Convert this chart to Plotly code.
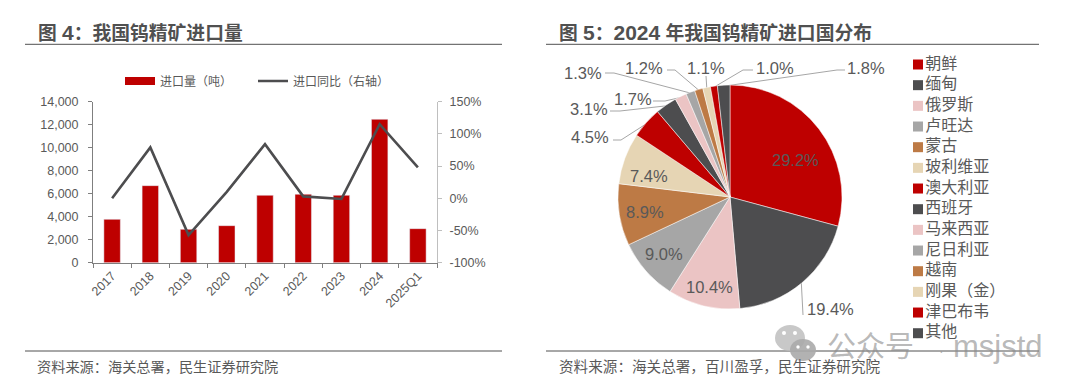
import math
import plotly.graph_objects as go

FONT = "Liberation Sans, Noto Sans CJK SC, sans-serif"
TXT = "#595959"
DARK = "#4D4D4F"
RED = "#BE0000"

years = ["2017", "2018", "2019", "2020", "2021", "2022", "2023", "2024", "2025Q1"]
import_tons = [3770, 6700, 2900, 3220, 5860, 5950, 5860, 12470, 2960]
import_yoy = [0, 79, -57, 10, 84, 3, -1, 115, 48]
yoy_ticks = [-100, -50, 0, 50, 100, 150]
yoy_labels = ["-100%", "-50%", "0%", "50%", "100%", "150%"]

countries = ["朝鲜", "缅甸", "俄罗斯", "卢旺达", "蒙古", "玻利维亚", "澳大利亚", "西班牙",
             "马来西亚", "尼日利亚", "越南", "刚果（金）", "津巴布韦", "其他"]
shares = [29.2, 19.4, 10.4, 9.0, 8.9, 7.4, 4.5, 3.1, 1.7, 1.3, 1.2, 1.1, 1.0, 1.8]
palette = [RED, DARK, "#EBC4C4", "#A6A6A6", "#BD7A45", "#E6D5B4"]
colors = [palette[i % 6] for i in range(len(shares))]

# pixel placement of pie labels (centre x, centre y)
label_xy = [(795, 160), (830, 309), (709, 287), (664, 254), (645, 212), (649, 176), (590, 137),
            (589, 109), (633, 99), (583, 73), (644, 68), (706, 68), (775, 68), (866, 68)]
# leader polylines: start, elbow; the end is worked out from the slice angle
leaders = {1: [(803, 315)], 6: [(613, 140), (621, 140)], 7: [(610, 111), (620, 111)],
           8: [(653, 101), (665, 101)], 9: [(605, 73), (614, 73)], 10: [(667, 70), (675, 70)],
           11: [(706, 76)], 12: [(753, 70), (743, 70)], 13: [(845, 70), (837, 70)]}
PIE_C, PIE_R = (730, 197), 112

W, H = 1080, 389
fig = go.Figure()

fig.add_trace(go.Bar(x=years, y=import_tons, name="进口量（吨）", marker_color=RED,
                     xaxis="x", yaxis="y", showlegend=False))
# legend key for the bars: plotly's own bar key is a small square, the reference's is a wide bar
fig.add_trace(go.Scatter(x=[None], y=[None], name="进口量（吨）", mode="lines",
                         line=dict(color=RED, width=8), xaxis="x", yaxis="y"))
fig.add_trace(go.Scatter(x=years, y=import_yoy, name="进口同比（右轴）", mode="lines",
                         line=dict(color=DARK, width=2.6), xaxis="x", yaxis="y2"))

fig.add_trace(go.Pie(values=shares, labels=countries, sort=False, direction="clockwise", rotation=0,
                     marker=dict(colors=colors, line=dict(color="white", width=0.5)),
                     textinfo="none", hoverinfo="label+percent", showlegend=False,
                     domain=dict(x=[(PIE_C[0]-PIE_R)/W, (PIE_C[0]+PIE_R)/W],
                                 y=[1-(PIE_C[1]+PIE_R)/H, 1-(PIE_C[1]-PIE_R)/H])))

# overlay pixel axes: leader lines and country key
cum = 0
mids = []
for s in shares:
    mids.append((cum + s/2)/sum(shares)*2*math.pi)
    cum += s
for i, pts in leaders.items():
    a = mids[i]
    end = (PIE_C[0] + (PIE_R-1)*math.sin(a), PIE_C[1] - (PIE_R-1)*math.cos(a))
    all_pts = pts + [end]
    fig.add_trace(go.Scatter(x=[p[0] for p in all_pts], y=[p[1] for p in all_pts], mode="lines",
                             line=dict(color="#A6A6A6", width=1), xaxis="x3", yaxis="y3",
                             showlegend=False, hoverinfo="skip"))

fig.add_trace(go.Scatter(x=[918]*len(countries), y=[64.5 + 20.67*i for i in range(len(countries))],
                         mode="markers+text", text=countries, textposition="middle right",
                         textfont=dict(size=16, color=TXT, family=FONT),
                         marker=dict(symbol="square", size=10, color=colors),
                         xaxis="x3", yaxis="y3", showlegend=False, hoverinfo="skip"))

ann = []
def text(x, y, s, size, color=TXT, anchor="left", bold=False):
    ann.append(dict(x=x/W, y=1-y/H, xref="paper", yref="paper", text=f"<b>{s}</b>" if bold else s,
                    showarrow=False, xanchor=anchor, yanchor="middle",
                    font=dict(size=size, color=color, family=FONT)))

def big(s):
    return f'<span style="font-size:21px">{s}</span>'

text(36, 32, f"图 {big('4')}：我国钨精矿进口量", 18.8, "#505050", bold=True)
text(557, 32, f"图 {big('5')}：{big('2024')} 年我国钨精矿进口国分布", 18.8, "#505050", bold=True)
text(35, 367, "资料来源：海关总署，民生证券研究院", 14.2)
text(557, 367, "资料来源：海关总署，百川盈孚，民生证券研究院", 14.6)
for (x, y), s in zip(label_xy, shares):
    text(x, y, f"{s:.1f}%", 16.5, anchor="center")
WM = "rgba(140,140,140,0.62)"
text(825, 347, "公众号", 29, WM)
text(941, 351, "·", 14, WM, anchor="center")
text(951, 346, "msjstd", 31, WM)

shapes = []
for x0, x1 in [(25, 502), (546, 1039)]:
    for y in (44.3, 351):
        shapes.append(dict(type="line", xref="paper", yref="paper", x0=x0/W, x1=x1/W, y0=1-y/H, y1=1-y/H,
                           line=dict(color="#505050", width=1)))
def oval(cx, cy, rx, ry, color):
    shapes.append(dict(type="circle", xref="paper", yref="paper", x0=(cx-rx)/W, x1=(cx+rx)/W,
                       y0=1-(cy+ry)/H, y1=1-(cy-ry)/H, fillcolor=color, line_width=0))
G = "rgba(190,190,190,0.85)"
oval(790, 338, 15, 13, G)
oval(784, 333, 2, 2, "white"); oval(795, 333, 2, 2, "white")
oval(803, 350, 13, 11, "rgba(170,170,170,0.9)")
oval(798, 347, 1.7, 1.7, "white"); oval(808, 347, 1.7, 1.7, "white")

X0, X1, Y14, Y0 = 93, 437, 101.7, 262.7
tick_font = dict(size=12.5, color=TXT, family=FONT)
fig.update_layout(
    width=W, height=H, autosize=False, margin=dict(l=0, r=0, t=0, b=0, autoexpand=False),
    paper_bgcolor="white", plot_bgcolor="rgba(0,0,0,0)", bargap=0.57,
    font=dict(family=FONT, color=TXT),
    xaxis=dict(domain=[X0/W, X1/W], anchor="y", type="category", categoryorder="array", categoryarray=years,
               tickangle=-45, tickson="boundaries", ticks="outside", ticklen=4, tickcolor="#7F7F7F",
               showline=True, linecolor="#7F7F7F", linewidth=1, tickfont=tick_font,
               showgrid=False, zeroline=False),
    yaxis=dict(domain=[1-Y0/H, 1-Y14/H], range=[0, 14000], tickvals=list(range(0, 14001, 2000)),
               tickformat=",d", ticks="outside", ticklen=4, tickcolor="#7F7F7F", showline=True,
               linecolor="#7F7F7F", linewidth=1, showgrid=False, zeroline=False, tickfont=tick_font,
               ticklabelstandoff=7),
    yaxis2=dict(domain=[1-Y0/H, 1-Y14/H], range=[-100, 150], tickvals=yoy_ticks, ticktext=yoy_labels,
                overlaying="y", side="right", anchor="x", ticks="outside", ticklen=4,
                tickcolor="#BFBFBF", showline=True, linecolor="#BFBFBF", linewidth=1, showgrid=False,
                zeroline=False, tickfont=tick_font, ticklabelstandoff=5),
    xaxis3=dict(domain=[0, 1], range=[0, W], visible=False, anchor="y3"),
    yaxis3=dict(domain=[0, 1], range=[H, 0], visible=False, anchor="x3"),
    legend=dict(orientation="h", x=120/W, y=1-81/H, xanchor="left", yanchor="middle", entrywidth=88,
                font=dict(size=12, color=TXT, family=FONT), bgcolor="rgba(0,0,0,0)",
                itemclick=False, itemdoubleclick=False, traceorder="normal"),
    annotations=ann, shapes=shapes,
)
fig.write_html("out.html", config=dict(displayModeBar=False),
               post_script="document.body.style.margin='0';document.body.style.overflow='hidden';")
